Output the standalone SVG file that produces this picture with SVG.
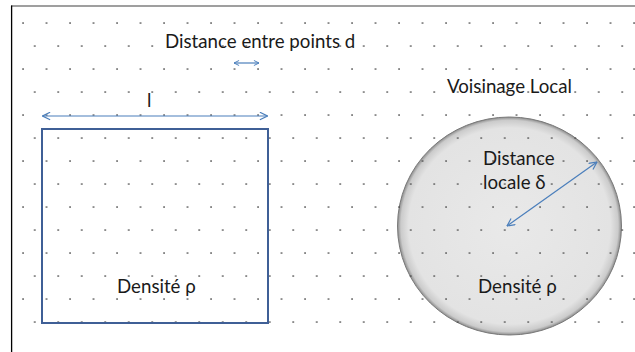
<svg xmlns="http://www.w3.org/2000/svg" width="635" height="352" viewBox="0 0 635 352">
  <style>
    .lbl { font-family: Lato, "Liberation Sans", sans-serif; font-size: 18.7px; fill: #1a1a1a; }
    .arr { stroke: #4a7ebb; stroke-width: 1.2; fill: none; }
  </style>
  <defs>
    <pattern id="dots" patternUnits="userSpaceOnUse" x="21" y="21" width="23.5" height="46">
      <rect x="1.3" y="1.3" width="1.5" height="1.5" fill="#444"/>
      <rect x="13" y="24.3" width="1.5" height="1.5" fill="#444"/>
    </pattern>
    <radialGradient id="disc" cx="0.5" cy="0.5" r="0.5">
      <stop offset="0" stop-color="#e9e9e9"/>
      <stop offset="0.9" stop-color="#e3e3e3"/>
      <stop offset="0.97" stop-color="#cbcbcb"/>
      <stop offset="1" stop-color="#8c8c8c"/>
    </radialGradient>
    <marker id="open" viewBox="0 0 10 10" refX="9.5" refY="5" markerWidth="9" markerHeight="9" markerUnits="userSpaceOnUse" orient="auto-start-reverse">
      <path d="M1,0.8 L9.5,5 L1,9.2" fill="none" stroke="#4a7ebb" stroke-width="1.3"/>
    </marker>
    <marker id="openSm" viewBox="0 0 10 10" refX="9.5" refY="5" markerWidth="6" markerHeight="7" markerUnits="userSpaceOnUse" orient="auto-start-reverse">
      <path d="M1,0.8 L9.5,5 L1,9.2" fill="none" stroke="#4a7ebb" stroke-width="1.6"/>
    </marker>
  </defs>

  <rect width="635" height="352" fill="#ffffff"/>

  <g id="frame">
    <line x1="11" y1="6" x2="635" y2="6" stroke="#7f7f7f" stroke-width="1.6"/>
    <line x1="11.6" y1="5.5" x2="11.6" y2="352" stroke="#000" stroke-width="1.3"/>
  </g>

  <g id="voisinage">
    <ellipse cx="509.5" cy="226" rx="112" ry="109" fill="url(#disc)" stroke="#7a7a7a" stroke-width="1"/>
  </g>

  <g id="points">
    <rect x="15" y="15" width="620" height="322" fill="url(#dots)"/>
  </g>

  <g id="zone">
    <rect x="42" y="129" width="226" height="194" fill="none" stroke="#3f5f96" stroke-width="2"/>
  </g>

  <g id="connectors">
    <line class="arr" x1="42.5" y1="116" x2="267.5" y2="116" marker-start="url(#open)" marker-end="url(#open)"/>
    <line class="arr" x1="234" y1="63" x2="259" y2="63" marker-start="url(#openSm)" marker-end="url(#openSm)"/>
    <line class="arr" x1="597" y1="162" x2="507" y2="226" marker-start="url(#open)" marker-end="url(#open)"/>
  </g>

  <g id="labels">
    <text class="lbl" x="165" y="48">Distance entre points d</text>
    <text class="lbl" x="447" y="93">Voisinage Local</text>
    <text class="lbl" x="147" y="107">l</text>
    <text class="lbl" x="117" y="293">Densité ρ</text>
    <text class="lbl" x="483" y="165">Distance</text>
    <text class="lbl" x="483" y="189">locale δ</text>
    <text class="lbl" x="478" y="293">Densité ρ</text>
  </g>
</svg>
